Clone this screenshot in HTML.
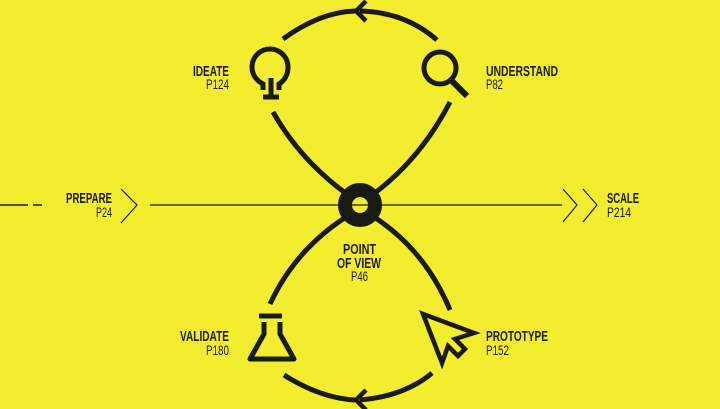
<!DOCTYPE html>
<html><head><style>
html,body{margin:0;padding:0;background:#f4ec2f;}
svg{display:block}
text{font-family:"Liberation Sans",sans-serif;fill:#1a1a14;}
.b{font-weight:bold;font-size:14.5px}
.n{font-size:14px}
</style></head><body>
<svg width="720" height="409" viewBox="0 0 720 409">
<rect width="720" height="409" fill="#f4ec2f"/>
<g stroke="#1a1a14" fill="none" stroke-linecap="butt">
<line x1="150" y1="205" x2="562" y2="205" stroke-width="1.3"/>
<line x1="0" y1="205" x2="28" y2="205" stroke-width="1.5"/>
<line x1="33" y1="205" x2="42" y2="205" stroke-width="1.5"/>
<polyline points="121,189 137,205 121,223" stroke-width="1.2"/>
<polyline points="563,189 577,205 563,222" stroke-width="1.2"/>
<polyline points="583,189 597,205 583,222" stroke-width="1.2"/>
<path d="M283,39 Q320,12 355,11" stroke-width="5"/>
<path d="M360,11 Q405,12 437,40" stroke-width="5"/>
<polyline points="366,1 356,11 366,21" stroke-width="4.5"/>
<path d="M273,112 Q300,160 348,195" stroke-width="5"/>
<path d="M450,102 Q420,160 372,195" stroke-width="5"/>
<path d="M346,217 Q295,250 270,304" stroke-width="5"/>
<path d="M374,217 Q425,250 450,310" stroke-width="5"/>
<path d="M284,375 Q320,398 355,400" stroke-width="5"/>
<path d="M360,400 Q405,396 432,373" stroke-width="5"/>
<polyline points="366,390 356,400 366,410" stroke-width="4.5"/>
<circle cx="360" cy="205" r="15" stroke-width="14"/>
<path d="M263,90 L263,84 Q252,78 252,67 A18,18 0 1 1 288,67 Q288,78 279,84 L279,90" stroke-width="5"/>
<line x1="271" y1="78" x2="271" y2="96" stroke-width="5"/>
<line x1="263" y1="97" x2="279" y2="97" stroke-width="5"/>
<circle cx="440" cy="68" r="16" stroke-width="5"/>
<line x1="452" y1="81" x2="467" y2="96" stroke-width="6"/>
<line x1="259" y1="316" x2="282" y2="316" stroke-width="5"/>
<path d="M264,322 L264,334 L250,359 L294,359 L280,334 L280,322" stroke-width="5" stroke-linejoin="round"/>
<path d="M423,314 L474,333 L455,339 L465,349 L458,356 L448,346 L442,363 Z" stroke-width="4.5" stroke-linejoin="miter"/>
</g>
<g>
<text class="b" x="193" y="76" textLength="36" lengthAdjust="spacingAndGlyphs">IDEATE</text>
<text class="n" x="206" y="89" textLength="23" lengthAdjust="spacingAndGlyphs">P124</text>
<text class="b" x="486" y="76" textLength="72" lengthAdjust="spacingAndGlyphs">UNDERSTAND</text>
<text class="n" x="486" y="89" textLength="17" lengthAdjust="spacingAndGlyphs">P82</text>
<text class="b" x="66" y="203" textLength="46" lengthAdjust="spacingAndGlyphs">PREPARE</text>
<text class="n" x="96" y="217" textLength="16" lengthAdjust="spacingAndGlyphs">P24</text>
<text class="b" x="607" y="203" textLength="32" lengthAdjust="spacingAndGlyphs">SCALE</text>
<text class="n" x="607" y="217" textLength="24" lengthAdjust="spacingAndGlyphs">P214</text>
<text class="b" x="343" y="254" textLength="33" lengthAdjust="spacingAndGlyphs">POINT</text>
<text class="b" x="337" y="268" textLength="44" lengthAdjust="spacingAndGlyphs">OF VIEW</text>
<text class="n" x="351" y="281" textLength="17" lengthAdjust="spacingAndGlyphs">P46</text>
<text class="b" x="180" y="341" textLength="49" lengthAdjust="spacingAndGlyphs">VALIDATE</text>
<text class="n" x="206" y="355" textLength="23" lengthAdjust="spacingAndGlyphs">P180</text>
<text class="b" x="486" y="341" textLength="62" lengthAdjust="spacingAndGlyphs">PROTOTYPE</text>
<text class="n" x="486" y="355" textLength="23" lengthAdjust="spacingAndGlyphs">P152</text>
</g>
</svg>
</body></html>
